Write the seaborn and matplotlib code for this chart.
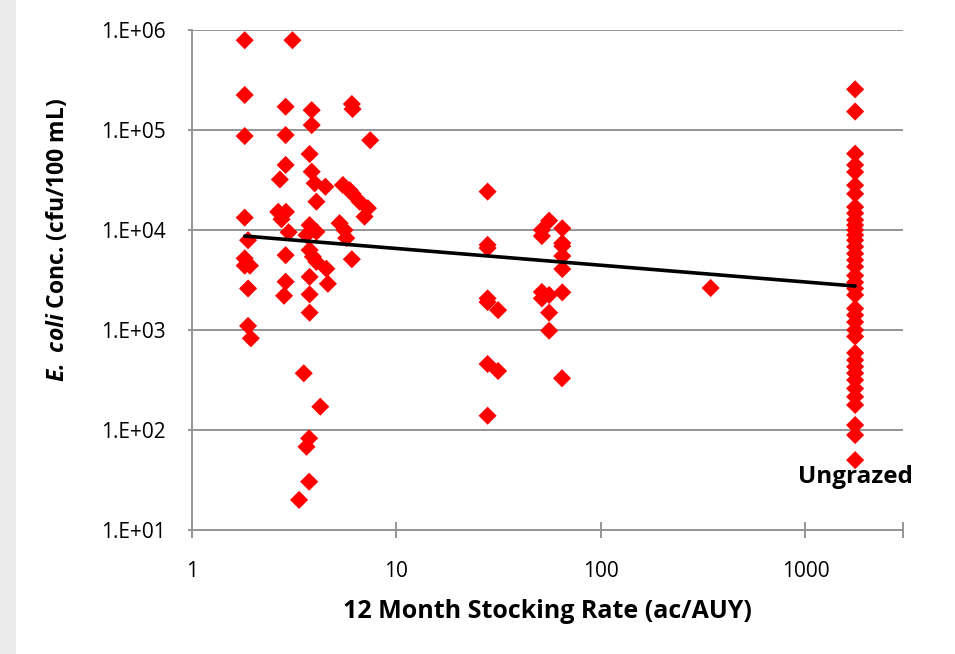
import matplotlib
matplotlib.use("Agg")
import matplotlib.pyplot as plt
import matplotlib.ticker as mticker
from matplotlib.patches import Rectangle
import numpy as np
import pandas as pd
import seaborn as sns

# ---- data ----
grazed_rate = [
    1.81, 3.10, 1.81, 2.87, 3.85, 3.85, 6.05, 6.10, 1.81, 2.87, 7.44, 3.76,
    2.87, 3.85, 2.69, 3.98, 4.49, 5.47, 5.90, 6.10, 6.60, 7.25, 6.98, 4.06,
    1.81, 2.64, 2.88, 2.74, 3.76, 4.06, 5.27, 5.57, 5.68, 2.97, 3.63, 1.88,
    2.87, 1.81, 1.92, 1.81, 3.76, 3.90, 4.06, 4.54, 6.05, 3.76, 4.62, 2.87,
    1.88, 2.82, 3.76, 3.76, 1.88, 1.94, 3.52, 4.24, 3.74, 3.63, 3.74, 3.34,
    27.9, 27.9, 27.9, 27.9, 27.9, 31.4, 27.9, 31.4, 27.9,
    55.8, 51.4, 51.4, 64.7, 64.7, 64.7, 64.7, 64.7, 51.4, 51.4, 55.8, 64.7,
    55.8, 55.8, 64.5, 344,
]
grazed_conc = [
    7.9e5, 7.9e5, 2.24e5, 1.71e5, 1.58e5, 1.12e5, 1.82e5, 1.62e5, 8.7e4, 8.9e4,
    7.9e4, 5.75e4, 4.47e4, 3.83e4, 3.2e4, 2.93e4, 2.71e4, 2.82e4, 2.5e4, 2.3e4,
    1.92e4, 1.65e4, 1.36e4, 1.92e4, 1.33e4, 1.52e4, 1.52e4, 1.28e4, 1.12e4, 9.6e3,
    1.17e4, 1.0e4, 8.3e3, 9.5e3, 8.9e3, 7.9e3, 5.6e3, 5.2e3, 4.4e3, 4.4e3,
    6.3e3, 5.4e3, 4.8e3, 4.1e3, 5.1e3, 3.4e3, 2.9e3, 3.04e3, 2.6e3, 2.2e3,
    2.27e3, 1.49e3, 1.1e3, 826, 369, 171, 82.6, 68, 30.4, 20,
    2.42e4, 7.1e3, 6.6e3, 2.07e3, 1.9e3, 1.58e3, 457, 389, 139,
    1.24e4, 1.0e4, 8.7e3, 1.04e4, 7.4e3, 6.9e3, 5.5e3, 4.07e3, 2.4e3, 2.07e3, 2.24e3, 2.38e3,
    1.49e3, 985, 329, 2.63e3,
]
ungrazed_rate = 1750
ungrazed_conc = [
    2.55e5, 1.53e5, 5.8e4, 4.47e4, 3.8e4, 2.8e4, 2.3e4, 1.7e4, 1.47e4, 1.26e4,
    1.12e4, 1.0e4, 8.9e3, 7.9e3, 6.8e3, 5.8e3, 5.0e3, 4.3e3, 3.5e3, 3.0e3,
    2.6e3, 2.24e3, 1.64e3, 1.41e3, 1.2e3, 1.0e3, 860, 590, 500, 430,
    370, 316, 260, 215, 178, 112, 89, 50,
]
trend_x = [1.81, 1750]
trend_y = [8700, 2750]
x_tick_vals = [1, 10, 100, 1000]
x_tick_labels = ["1", "10", "100", "1000"]
y_tick_vals = [1e1, 1e2, 1e3, 1e4, 1e5, 1e6]
y_tick_labels = ["1.E+01", "1.E+02", "1.E+03", "1.E+04", "1.E+05", "1.E+06"]

df = pd.DataFrame({
    "rate": grazed_rate + [ungrazed_rate] * len(ungrazed_conc),
    "conc": grazed_conc + ungrazed_conc,
})

sns.set_theme(style="white")
FONT = "Open Sans"
plt.rcParams["font.family"] = [FONT, "DejaVu Sans"]
plt.rcParams["text.color"] = "black"
plt.rcParams["axes.labelcolor"] = "black"
plt.rcParams["mathtext.fontset"] = "custom"
plt.rcParams["mathtext.bfit"] = FONT + ":italic:bold"
plt.rcParams["mathtext.it"] = FONT + ":italic:bold"
plt.rcParams["mathtext.rm"] = FONT + ":bold"

fig = plt.figure(figsize=(9.55, 6.54), dpi=100)
fig.patch.set_facecolor("white")
fig.add_artist(Rectangle((0, 0), 16 / 955, 1, transform=fig.transFigure,
                         facecolor="#ebebeb", edgecolor="none", zorder=0))
ax = fig.add_axes([192 / 955, 1 - 530 / 654, (903 - 192) / 955, 500 / 654])

GRAY = "#959595"

ax.set_xscale("log")
ax.set_yscale("log")
ax.set_xlim(1, 3000)
ax.set_ylim(1e1, 1e6)

ax.grid(axis="y", color=GRAY, linewidth=1.4, zorder=0)
ax.grid(axis="x", visible=False)
ax.set_axisbelow(True)

ax.plot(trend_x, trend_y, color="black", linewidth=2.6, zorder=3)
sns.scatterplot(data=df, x="rate", y="conc", ax=ax, marker="D", s=85,
                color="#ff0000", edgecolor="none", linewidth=0, zorder=2)

for side in ["top", "right"]:
    ax.spines[side].set_visible(False)
for side in ["left", "bottom"]:
    ax.spines[side].set_color(GRAY)
    ax.spines[side].set_linewidth(1.4)

ax.xaxis.set_major_locator(mticker.FixedLocator(x_tick_vals + [3000]))
ax.xaxis.set_major_formatter(mticker.FixedFormatter(x_tick_labels + [""]))
ax.xaxis.set_minor_locator(mticker.LogLocator(base=10, subs=np.arange(2, 10)))
ax.xaxis.set_minor_formatter(mticker.NullFormatter())
ax.tick_params(axis="x", which="both", direction="inout", length=11, width=1.4,
               color=GRAY, labelsize=15, pad=17, labelcolor="black")

ax.yaxis.set_major_locator(mticker.FixedLocator(y_tick_vals))
ax.yaxis.set_major_formatter(mticker.FixedFormatter(y_tick_labels))
ax.yaxis.set_minor_locator(mticker.NullLocator())
ax.tick_params(axis="y", which="major", direction="out", length=3, width=1.4,
               color=GRAY, labelsize=15, pad=16, labelcolor="black")
ax.tick_params(left=True, bottom=True)

ax.set_xlabel("12 Month Stocking Rate (ac/AUY)", fontsize=18, fontweight="bold",
              labelpad=12, color="black")
ax.set_ylabel(r"$\mathbfit{E.\ coli}$ Conc. (cfu/100 mL)", fontsize=16.5,
              fontweight="bold", color="black")
ax.yaxis.set_label_coords(-0.172, 0.58)

ax.text(ungrazed_rate, 34, "Ungrazed", fontsize=17.5, fontweight="bold",
        ha="center", va="center", color="black")

fig.savefig("out.png", dpi=100)
